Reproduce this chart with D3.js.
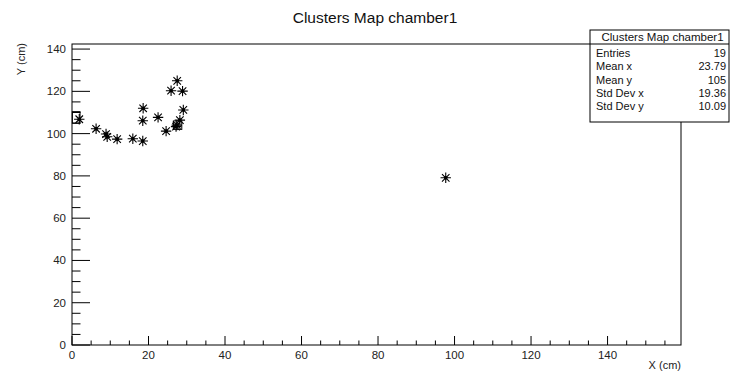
<!DOCTYPE html>
<html>
<head>
<meta charset="utf-8">
<script src="https://cdn.jsdelivr.net/npm/d3@7/dist/d3.min.js"></script>
<style>
  html, body { margin: 0; padding: 0; background: #fff; }
  svg { display: block; font-family: "Liberation Sans", Arial, Helvetica, sans-serif; }
</style>
</head>
<body>
<svg id="chart" width="735" height="374"></svg>
<script>
// Cluster positions (cm) in chamber 1
const clusterX = [1.9, 6.3, 8.9, 9.2, 11.8, 15.9, 18.5, 18.6, 18.5, 22.5, 24.6, 25.9, 27.5, 28.9, 29.1, 27.2, 27.4, 28.2, 97.7];
const clusterY = [106.8, 102.3, 99.8, 98.5, 97.4, 97.6, 96.5, 112.0, 106.1, 107.7, 101.2, 120.3, 125.0, 120.1, 111.2, 103.3, 104.0, 106.4, 79.1];

// Filled bins drawn as outline boxes: [xLow, xHigh, yLow, yHigh]
const binBoxes = [[0.1, 2.1, 104.9, 110.4], [26.5, 28.7, 102.0, 106.0]];

const xTicks = [0, 20, 40, 60, 80, 100, 120, 140];
const yTicks = [0, 20, 40, 60, 80, 100, 120, 140];
const xDomain = [0, 159.2];
const yDomain = [0, 142.4];

const statsTitle = "Clusters Map chamber1";
const statsLabels = ["Entries", "Mean x", "Mean y", "Std Dev x", "Std Dev y"];
const statsValues = ["19", "23.79", "105", "19.36", "10.09"];

const svg = d3.select("#chart");
const frame = { left: 72, right: 681, top: 44, bottom: 345 };

const x = d3.scaleLinear().domain(xDomain).range([frame.left, frame.right]);
const y = d3.scaleLinear().domain(yDomain).range([frame.bottom, frame.top]);

// Title
svg.append("text")
  .attr("x", 375).attr("y", 23)
  .attr("text-anchor", "middle")
  .attr("font-size", 15.5)
  .attr("fill", "#111")
  .text("Clusters Map chamber1");

// Frame
svg.append("rect")
  .attr("x", frame.left).attr("y", frame.top)
  .attr("width", frame.right - frame.left).attr("height", frame.bottom - frame.top)
  .attr("fill", "none").attr("stroke", "#000").attr("stroke-width", 1);

// X axis: major ticks every 20, minor every 5 (ticks point into the frame)
const xMinor = d3.range(0, xDomain[1], 5);
const xAxis = svg.append("g");
xAxis.selectAll("line").data(xMinor).join("line")
  .attr("x1", d => x(d)).attr("x2", d => x(d))
  .attr("y1", frame.bottom).attr("y2", d => frame.bottom - (d % 20 === 0 ? 9 : 4.5))
  .attr("stroke", "#000").attr("stroke-width", 1);
xAxis.selectAll("text").data(xTicks).join("text")
  .attr("x", d => x(d)).attr("y", frame.bottom + 14)
  .attr("text-anchor", "middle").attr("font-size", 11.5).attr("fill", "#222")
  .text(d => d);

// Y axis
const yMinor = d3.range(0, yDomain[1], 5);
const yAxis = svg.append("g");
yAxis.selectAll("line").data(yMinor).join("line")
  .attr("y1", d => y(d)).attr("y2", d => y(d))
  .attr("x1", frame.left).attr("x2", d => frame.left + (d % 20 === 0 ? 18 : 8.5))
  .attr("stroke", "#000").attr("stroke-width", 1);
yAxis.selectAll("text").data(yTicks).join("text")
  .attr("x", frame.left - 6).attr("y", d => y(d) + 4)
  .attr("text-anchor", "end").attr("font-size", 11.5).attr("fill", "#222")
  .text(d => d);

// Axis titles
svg.append("text")
  .attr("x", frame.right).attr("y", 369)
  .attr("text-anchor", "end").attr("font-size", 11).attr("fill", "#222")
  .text("X (cm)");
svg.append("text")
  .attr("transform", `translate(25,${frame.top - 1}) rotate(-90)`)
  .attr("text-anchor", "end").attr("font-size", 11).attr("fill", "#222")
  .text("Y (cm)");

// Bin outline boxes
svg.append("g").selectAll("rect").data(binBoxes).join("rect")
  .attr("x", d => x(d[0])).attr("y", d => y(d[3]))
  .attr("width", d => x(d[1]) - x(d[0])).attr("height", d => y(d[2]) - y(d[3]))
  .attr("fill", "none").attr("stroke", "#000").attr("stroke-width", 1);

// Asterisk markers
const r = 5.2, rd = r * 0.72;
const star = `M${-r},0H${r}M0,${-r}V${r}M${-rd},${-rd}L${rd},${rd}M${-rd},${rd}L${rd},${-rd}`;
const pts = clusterX.map((v, i) => [v, clusterY[i]]);
const markers = svg.append("g");
markers.selectAll("path").data(pts).join("path")
  .attr("transform", d => `translate(${x(d[0])},${y(d[1])})`)
  .attr("d", star)
  .attr("fill", "none").attr("stroke", "#000").attr("stroke-width", 1.1);
markers.selectAll("circle").data(pts).join("circle")
  .attr("cx", d => x(d[0])).attr("cy", d => y(d[1])).attr("r", 1.8)
  .attr("fill", "#000");

// Statistics box
const box = { x0: 590, x1: 729, y0: 30, y1: 122, sep: 44 };
svg.append("rect")
  .attr("x", box.x0).attr("y", box.y0)
  .attr("width", box.x1 - box.x0).attr("height", box.y1 - box.y0)
  .attr("fill", "#fff").attr("stroke", "#000").attr("stroke-width", 1);
svg.append("line")
  .attr("x1", box.x0).attr("x2", box.x1).attr("y1", box.sep).attr("y2", box.sep)
  .attr("stroke", "#000").attr("stroke-width", 1);
svg.append("text")
  .attr("x", (box.x0 + box.x1) / 2 + 3).attr("y", 41)
  .attr("text-anchor", "middle").attr("font-size", 11.5).attr("fill", "#111")
  .text(statsTitle);
const rowBase = [56.5, 70, 83.5, 97, 110];
svg.append("g").selectAll("text").data(statsLabels).join("text")
  .attr("x", 596).attr("y", (d, i) => rowBase[i])
  .attr("font-size", 11).attr("fill", "#111")
  .text(d => d);
svg.append("g").selectAll("text").data(statsValues).join("text")
  .attr("x", 726).attr("y", (d, i) => rowBase[i])
  .attr("text-anchor", "end").attr("font-size", 11).attr("fill", "#111")
  .text(d => d);
</script>
</body>
</html>
